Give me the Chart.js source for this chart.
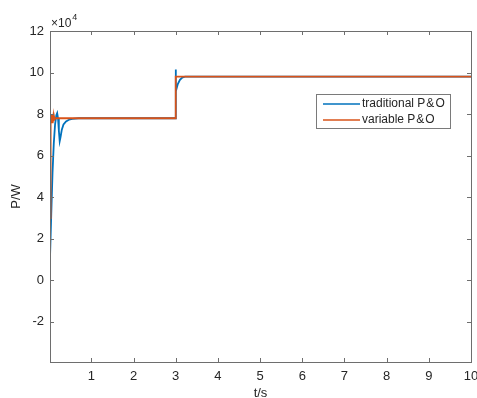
<!DOCTYPE html>
<html>
<head>
<meta charset="utf-8">
<script src="https://cdn.jsdelivr.net/npm/chart.js@4/dist/chart.umd.min.js"></script>
<style>
  html,body{margin:0;padding:0;background:#fff;}
  #c{display:block;}
</style>
</head>
<body>
<canvas id="c" width="477" height="398"></canvas>
<script>
// values, power in units of 1e4 W
const tradT = [0.02,0.05,0.08,0.11,0.14,0.17,0.19,0.21,0.23,0.25,0.27,0.30,0.34,0.40,0.47,0.55,0.70,3.00,3.00,3.005,3.05,3.10,3.15,3.22,10];
const tradP = [1.1,3.2,5.2,6.6,7.5,7.95,8.05,7.8,7.2,6.7,6.9,7.25,7.5,7.65,7.73,7.77,7.8,7.8,10.15,9.1,9.45,9.65,9.75,9.8,9.8];
const varT = [0.02,0.03,0.04,0.05,0.06,0.07,0.08,0.09,0.10,0.11,0.12,0.13,0.15,3.00,3.00,10];
const varP = [3.0,6.0,7.95,7.6,8.0,7.6,7.95,7.65,7.9,7.7,7.85,7.75,7.8,7.8,9.8,9.8];
const xTicks = [1,2,3,4,5,6,7,8,9,10];
const yTicks = [-2,0,2,4,6,8,10,12];
const seriesNames = ['traditional P\u200a&\u200aO','variable P\u200a&\u200aO'];
const seriesColors = ['#0072BD','#D95319'];

const FONT = '"Liberation Sans", Arial, Helvetica, sans-serif';
const AXIS = '#6e6e6e';
const TXT = '#262626';

const toPts = (ts, ps) => ts.map((t,i)=>({x:t, y:ps[i]}));

const matlabFrame = {
  id:'matlabFrame',
  afterDraw(chart){
    const {ctx, chartArea:a, scales:{x, y}} = chart;
    ctx.save();
    ctx.strokeStyle = AXIS;
    ctx.lineWidth = 1;
    ctx.strokeRect(Math.round(a.left)+0.5, Math.round(a.top)+0.5, Math.round(a.right-a.left), Math.round(a.bottom-a.top));
    ctx.beginPath();
    const tl = 4;
    xTicks.forEach(v=>{
      const px = Math.round(x.getPixelForValue(v))+0.5;
      ctx.moveTo(px, a.bottom); ctx.lineTo(px, a.bottom-tl);
      ctx.moveTo(px, a.top); ctx.lineTo(px, a.top+tl);
    });
    yTicks.forEach(v=>{
      const py = Math.round(y.getPixelForValue(v))+0.5;
      ctx.moveTo(a.left, py); ctx.lineTo(a.left+tl, py);
      ctx.moveTo(a.right, py); ctx.lineTo(a.right-tl, py);
    });
    ctx.stroke();

    // exponent label
    ctx.fillStyle = TXT;
    ctx.textBaseline = 'alphabetic';
    ctx.textAlign = 'left';
    ctx.font = '12px ' + FONT;
    ctx.fillText('\u00d710', a.left+1, a.top-4);
    const w = ctx.measureText('\u00d710').width;
    ctx.font = '9px ' + FONT;
    ctx.fillText('4', a.left+1+w+1, a.top-11);

    // legend box
    const bx = 316.5, by = 94.5, bw = 134, bh = 34;
    ctx.fillStyle = '#fff';
    ctx.fillRect(bx, by, bw, bh);
    ctx.strokeStyle = '#7a7a7a';
    ctx.strokeRect(bx, by, bw, bh);
    const rows = [104, 120];
    ctx.font = '12px ' + FONT;
    ctx.textBaseline = 'middle';
    seriesNames.forEach((name,i)=>{
      ctx.strokeStyle = seriesColors[i];
      ctx.lineWidth = 1.5;
      ctx.beginPath();
      ctx.moveTo(323, rows[i]); ctx.lineTo(360, rows[i]);
      ctx.stroke();
      ctx.fillStyle = TXT;
      ctx.fillText(name, 362, rows[i]);
    });
    ctx.restore();
  }
};

new Chart(document.getElementById('c'), {
  type:'line',
  data:{
    datasets:[
      {label:seriesNames[0], data:toPts(tradT,tradP), borderColor:seriesColors[0], borderWidth:1.8, pointRadius:0, tension:0, order:1},
      {label:seriesNames[1], data:toPts(varT,varP), borderColor:seriesColors[1], borderWidth:1.8, pointRadius:0, tension:0, order:0}
    ]
  },
  options:{
    responsive:false,
    animation:false,
    devicePixelRatio:1,
    layout:{padding:{top:31, right:6, left:0, bottom:0}},
    plugins:{legend:{display:false}, tooltip:{enabled:false}},
    scales:{
      x:{
        type:'linear', min:0.02, max:10,
        afterBuildTicks:s=>{ s.ticks = xTicks.map(v=>({value:v})); },
        afterFit:s=>{ s.height = 36; s.paddingLeft = 0; s.paddingRight = 0; },
        grid:{display:false, drawTicks:false},
        border:{display:false},
        ticks:{color:TXT, font:{family:FONT, size:13}, padding:7, maxRotation:0, autoSkip:false},
        title:{display:true, text:'t/s', color:TXT, font:{family:FONT, size:13}, padding:{top:0, bottom:-3}}
      },
      y:{
        type:'linear', min:-3.93, max:12,
        afterBuildTicks:s=>{ s.ticks = yTicks.map(v=>({value:v})); },
        afterFit:s=>{ s.width = 50; s.paddingTop = 0; s.paddingBottom = 0; },
        grid:{display:false, drawTicks:false},
        border:{display:false},
        ticks:{color:TXT, font:{family:FONT, size:13}, padding:6, autoSkip:false},
        title:{display:true, text:'P/W', color:TXT, font:{family:FONT, size:13}, padding:{top:9, bottom:0}}
      }
    }
  },
  plugins:[matlabFrame]
});
</script>
</body>
</html>
